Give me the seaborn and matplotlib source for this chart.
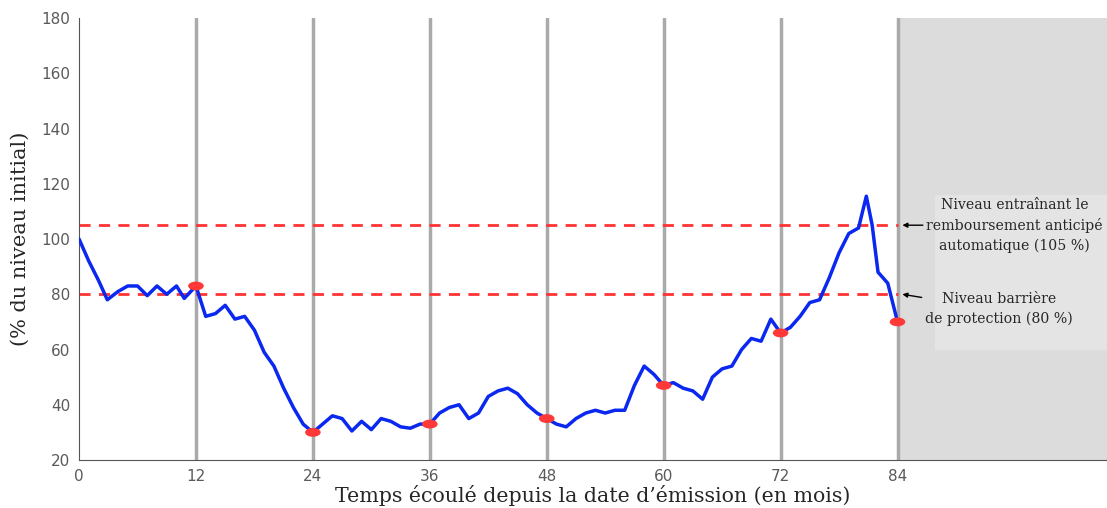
import numpy as np
import pandas as pd
import seaborn as sns
import matplotlib.pyplot as plt
from matplotlib.patches import Ellipse, Rectangle

# valeurs du sous-jacent (% du niveau initial) par mois
mois = [0, 1, 2, 2.9, 4, 5, 6, 7, 8, 9, 10, 10.8, 12, 13, 14, 15, 16, 17, 18, 19, 20,
        21, 22, 23, 24, 25, 26, 27, 28, 29, 30, 31, 32, 33, 34, 35, 36, 37, 38, 39, 40,
        41, 42, 43, 44, 45, 46, 47, 48, 49, 50, 51, 52, 53, 54, 55, 56, 57, 58, 59, 60,
        61, 62, 63, 64, 65, 66, 67, 68, 69, 70, 71, 72, 73, 74, 75, 76, 77, 78, 79, 80,
        80.8, 81.4, 82, 82.5, 83, 84]
niveau = [100, 92, 85, 78, 81, 83, 83, 79.5, 83, 80, 83, 78.5, 83, 72, 73, 76, 71, 72, 67, 59, 54,
          46, 39, 33, 30, 33, 36, 35, 30.5, 34, 31, 35, 34, 32, 31.5, 33, 33, 37, 39, 40, 35,
          37, 43, 45, 46, 44, 40, 37, 35, 33, 32, 35, 37, 38, 37, 38, 38, 47, 54, 51, 47,
          48, 46, 45, 42, 50, 53, 54, 60, 64, 63, 71, 66, 68, 72, 77, 78, 86, 95, 102, 104,
          115.5, 105, 88, 86, 84, 70]

dates_obs = [12, 24, 36, 48, 60, 72, 84]
niveaux_obs = [83, 30, 33, 35, 47, 66, 70]

seuil_rappel = 105
seuil_barriere = 80

df = pd.DataFrame({'mois': mois, 'niveau': niveau})

sns.set_style('white')
fig = plt.figure(figsize=(11.07, 5.08), dpi=100)
ax = fig.add_axes([0.0714, 0.0945, 0.9286, 0.870])

xmax = 105.5
ax.axvspan(84, xmax, color='#dcdcdc', zorder=0)
ax.add_patch(Rectangle((0.833, 0.249), 0.167, 0.351, transform=ax.transAxes,
                       color='#e4e4e4', zorder=0.5, lw=0))

for d in dates_obs:
    ax.axvline(d, color='#aaaaaa', lw=2.5, zorder=1)

ax.axhline(seuil_rappel, xmin=0, xmax=84 / xmax, color='#ff3333', lw=2, ls=(0, (4, 3)), zorder=2)
ax.axhline(seuil_barriere, xmin=0, xmax=84 / xmax, color='#ff3333', lw=2, ls=(0, (4, 3)), zorder=2)

sns.lineplot(data=df, x='mois', y='niveau', color='#0a28f0', lw=2.5, ax=ax, zorder=3,
             solid_joinstyle='round', solid_capstyle='round')

for d, v in zip(dates_obs, niveaux_obs):
    ax.add_patch(Ellipse((d, v), 1.6, 3.2, color='#ff3838', zorder=4, lw=0))

ax.set_xlim(0, xmax)
ax.set_ylim(20, 180)
ax.set_xticks([0] + dates_obs)
ax.set_yticks(range(20, 181, 20))
ax.tick_params(axis='both', labelsize=11, labelcolor='#5a5a5a', length=3, color='#555555', direction='out')
for s in ['top', 'right']:
    ax.spines[s].set_visible(False)
for s in ['left', 'bottom']:
    ax.spines[s].set_color('#555555')

ax.set_xlabel('Temps écoulé depuis la date d\u2019émission (en mois)', family='DejaVu Serif', fontsize=14.8, labelpad=1)
ax.set_ylabel('(% du niveau initial)', family='DejaVu Serif', fontsize=15, labelpad=8)

ax.annotate('Niveau entraînant le\nremboursement anticipé\nautomatique (105 %)',
            xy=(84.5, seuil_rappel), xytext=(96.0, seuil_rappel), ha='center', va='center',
            family='DejaVu Serif', fontsize=10.2, linespacing=1.5,
            arrowprops=dict(arrowstyle='-|>', color='black', lw=1, shrinkA=0, shrinkB=0,
                            mutation_scale=7, relpos=(0.0, 0.5)))
ax.annotate('Niveau barrière\nde protection (80 %)',
            xy=(84.5, seuil_barriere), xytext=(94.4, 74.5), ha='center', va='center',
            family='DejaVu Serif', fontsize=10.2, linespacing=1.5,
            arrowprops=dict(arrowstyle='-|>', color='black', lw=1, shrinkA=0, shrinkB=0,
                            mutation_scale=7, relpos=(0.12, 0.75)))

fig.savefig('out.png', dpi=100)
